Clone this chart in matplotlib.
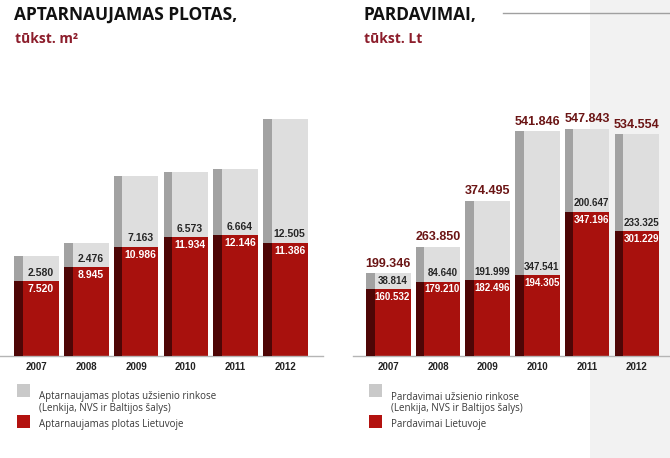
import matplotlib.pyplot as plt
from matplotlib.patches import Rectangle

# Data
years = ["2007", "2008", "2009", "2010", "2011", "2012"]

area_lt = [7.520, 8.945, 10.986, 11.934, 12.146, 11.386]
area_abroad = [2.580, 2.476, 7.163, 6.573, 6.664, 12.505]
area_labels_lt = ["7.520", "8.945", "10.986", "11.934", "12.146", "11.386"]
area_labels_abroad = ["2.580", "2.476", "7.163", "6.573", "6.664", "12.505"]

sales_lt = [160.532, 179.210, 182.496, 194.305, 347.196, 301.229]
sales_abroad = [38.814, 84.640, 191.999, 347.541, 200.647, 233.325]
sales_total = [199.346, 263.850, 374.495, 541.846, 547.843, 534.554]
sales_labels_lt = ["160.532", "179.210", "182.496", "194.305", "347.196", "301.229"]
sales_labels_abroad = ["38.814", "84.640", "191.999", "347.541", "200.647", "233.325"]
sales_labels_total = ["199.346", "263.850", "374.495", "541.846", "547.843", "534.554"]

RED = "#a8110d"
RED_DARK = "#4e0606"
GREY = "#dedede"
GREY_DARK = "#a2a2a2"
MAROON = "#6b1515"
TITLE_RED = "#8c1d2b"
NUM = ["Liberation Sans", "DejaVu Sans"]
SANS = ["Open Sans", "DejaVu Sans"]

W, H = 670, 458
fig = plt.figure(figsize=(W / 100, H / 100), dpi=100)


def fx(px):
    return px / W


def fy(py):
    return 1 - py / H


# light grey panel on the right edge, behind everything
fig.patches.append(Rectangle((fx(590), 0), fx(80), 1, transform=fig.transFigure,
                             facecolor="#f2f2f2", edgecolor="none", zorder=-5))


def bar_panel(left_px, right_px, first_center, spacing, scale, lt, abroad,
              lbl_lt, lbl_abroad, totals=None, lbl_totals=None,
              lt_size=7.5, ab_size=7.5):
    top_px, base_px = 100, 356
    ax = fig.add_axes([fx(left_px), fy(base_px), fx(right_px - left_px),
                       (base_px - top_px) / H])
    ax.set_facecolor("none")
    ax.set_xlim(-(first_center - left_px) / spacing, (right_px - first_center) / spacing)
    ax.set_ylim(0, (base_px - top_px) / scale)
    x = list(range(len(years)))
    width = 44.5 / spacing
    strip = 8.5 / spacing
    lefts = [i - width / 2 for i in x]

    ax.bar(lefts, lt, width=width, align="edge", color=RED, zorder=2)
    ax.bar(lefts, abroad, bottom=lt, width=width, align="edge", color=GREY, zorder=2)
    ax.bar(lefts, lt, width=strip, align="edge", color=RED_DARK, zorder=3)
    ax.bar(lefts, abroad, bottom=lt, width=strip, align="edge", color=GREY_DARK, zorder=3)

    for i in x:
        cx = i + strip / 2
        ax.annotate(lbl_abroad[i], (cx, lt[i]), xytext=(0, 2.5), textcoords="offset points",
                    ha="center", va="bottom", fontsize=ab_size, fontweight="bold",
                    color="#262626", family=NUM, zorder=5)
        ax.annotate(lbl_lt[i], (cx, lt[i]), xytext=(0, -2), textcoords="offset points",
                    ha="center", va="top", fontsize=lt_size, fontweight="bold",
                    color="white", family=NUM, zorder=5)
        if totals is not None:
            ax.annotate(lbl_totals[i], (i, totals[i]), xytext=(0, 2.5),
                        textcoords="offset points", ha="center", va="bottom",
                        fontsize=9, fontweight="bold", color=MAROON,
                        family=NUM, zorder=5)

    ax.set_xticks(x)
    ax.set_xticklabels(years, fontsize=7, fontweight="bold", family=NUM,
                       color="#222222")
    ax.tick_params(axis="x", length=0, pad=4.5)
    ax.set_yticks([])
    for side in ["left", "right", "top"]:
        ax.spines[side].set_visible(False)
    ax.spines["bottom"].set_color("#b5b5b5")
    ax.spines["bottom"].set_linewidth(1.0)
    return ax


bar_panel(0, 323, 36.7, 49.72, 9.93, area_lt, area_abroad,
          area_labels_lt, area_labels_abroad)
bar_panel(353, 670, 388.3, 49.7, 0.415, sales_lt, sales_abroad,
          sales_labels_lt, sales_labels_abroad, sales_total, sales_labels_total,
          lt_size=7, ab_size=7)

# titles
fig.text(fx(14), fy(19.5), "APTARNAUJAMAS PLOTAS,", fontsize=12.5, fontweight="bold",
         family=SANS, color="#111111", va="baseline")
fig.text(fx(15), fy(43), "tūkst. m²", fontsize=10, fontweight="bold",
         family=SANS, color=TITLE_RED, va="baseline")
fig.text(fx(364), fy(19.5), "PARDAVIMAI,", fontsize=12.5, fontweight="bold",
         family=SANS, color="#111111", va="baseline")
fig.text(fx(364), fy(43), "tūkst. Lt", fontsize=10, fontweight="bold",
         family=SANS, color=TITLE_RED, va="baseline")
fig.add_artist(plt.Line2D([fx(503), 1], [fy(12.7), fy(12.7)], color="#a0a0a0",
                          linewidth=1.0, transform=fig.transFigure))

# legends
legend_specs = [
    (17, 39, ["Aptarnaujamas plotas užsienio rinkose", "(Lenkija, NVS ir Baltijos šalys)"],
     "Aptarnaujamas plotas Lietuvoje"),
    (369, 391, ["Pardavimai užsienio rinkose", "(Lenkija, NVS ir Baltijos šalys)"],
     "Pardavimai Lietuvoje"),
]
for sq_x, tx, abroad_lines, lt_line in legend_specs:
    fig.patches.append(Rectangle((fx(sq_x), fy(397)), fx(13), 13 / H,
                                 transform=fig.transFigure, facecolor="#c9c9c9",
                                 edgecolor="none"))
    fig.patches.append(Rectangle((fx(sq_x), fy(428)), fx(13), 13 / H,
                                 transform=fig.transFigure, facecolor="#b3120f",
                                 edgecolor="none"))
    fig.text(fx(tx), fy(399.5), abroad_lines[0], fontsize=7, family=SANS,
             color="#3a3a3a", va="baseline")
    fig.text(fx(tx), fy(410.5), abroad_lines[1], fontsize=7, family=SANS,
             color="#3a3a3a", va="baseline")
    fig.text(fx(tx), fy(426.5), lt_line, fontsize=7, family=SANS,
             color="#3a3a3a", va="baseline")

fig.savefig("out.png", dpi=100)
